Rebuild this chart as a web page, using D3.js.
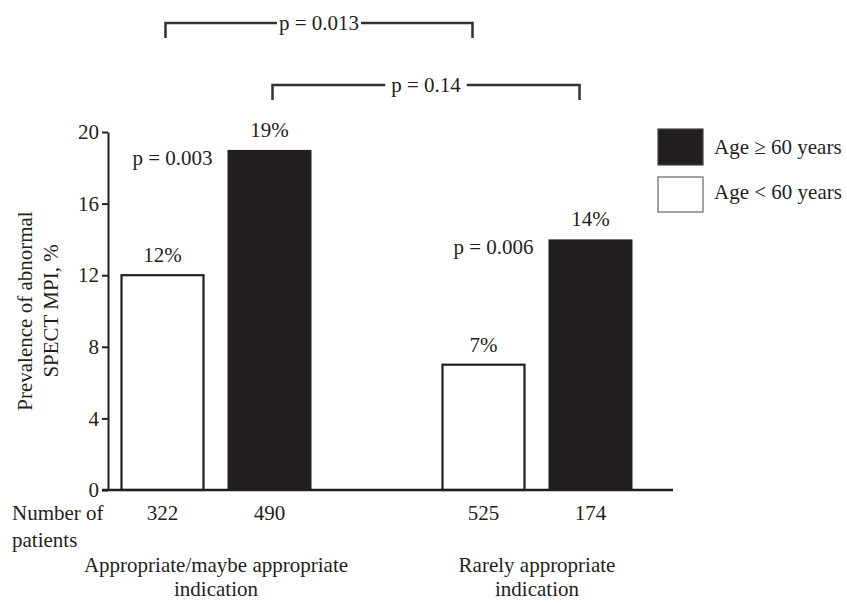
<!DOCTYPE html>
<html lang="en">
<head>
<meta charset="utf-8">
<title>Abnormal SPECT MPI by age and indication</title>
<script src="https://d3js.org/d3.v7.min.js"></script>
<style>
  body { margin: 0; background: #ffffff; }
  svg text { font-family: "Liberation Serif", "Times New Roman", serif; font-size: 21px; fill: #231f20; }
</style>
</head>
<body>
<script>
// data
var groups = ["Appropriate/maybe appropriate indication", "Rarely appropriate indication"];
var groupLines = [["Appropriate/maybe appropriate", "indication"], ["Rarely appropriate", "indication"]];
var ages = ["lt60", "ge60"];
var ageLabels = ["Age \u2265 60 years", "Age < 60 years"];
var prevLt60 = [12, 7];
var prevGe60 = [19, 14];
var patientsLt60 = [322, 525];
var patientsGe60 = [490, 174];
var pWithin = ["p = 0.003", "p = 0.006"];
var pBetween = [
  {from: [0, "lt60"], to: [1, "lt60"], label: "p = 0.013"},
  {from: [0, "ge60"], to: [1, "ge60"], label: "p = 0.14"}
];
var yTicks = [0, 4, 8, 12, 16, 20];

var width = 847, height = 603;
var dark = "#231f20";

var svg = d3.select("body").append("svg")
  .attr("width", width)
  .attr("height", height);

var y = d3.scaleLinear().domain([0, 20]).range([490, 132]);
var xGroup = d3.scalePoint().domain(groups).range([216, 537]);
var xAge = d3.scaleBand().domain(ages).range([-95.5, 95.5]).paddingInner(0.215);

var bars = [];
groups.forEach(function(g, i) {
  bars.push({group: g, age: "lt60", value: prevLt60[i], n: patientsLt60[i]});
  bars.push({group: g, age: "ge60", value: prevGe60[i], n: patientsGe60[i]});
});
function barX(d) { return xGroup(d.group) + xAge(d.age); }
function barMid(g, a) { return xGroup(g) + xAge(a) + xAge.bandwidth() / 2; }

// bars
svg.append("g").selectAll("rect")
  .data(bars)
  .enter().append("rect")
  .attr("x", function(d) { return barX(d) + (d.age == "lt60" ? 1 : 0); })
  .attr("y", function(d) { return y(d.value); })
  .attr("width", function(d) { return xAge.bandwidth() - (d.age == "lt60" ? 2 : 0); })
  .attr("height", function(d) { return y(0) - y(d.value); })
  .attr("fill", function(d) { return d.age == "ge60" ? dark : "#ffffff"; })
  .attr("stroke", function(d) { return d.age == "lt60" ? dark : "none"; })
  .attr("stroke-width", 2.2);

// value labels
svg.append("g").selectAll("text")
  .data(bars)
  .enter().append("text")
  .attr("x", function(d) { return barX(d) + xAge.bandwidth() / 2; })
  .attr("y", function(d) { return y(d.value) - 13; })
  .attr("text-anchor", "middle")
  .text(function(d) { return d.value + "%"; });

// within-group p values
svg.append("g").selectAll("text")
  .data(groups)
  .enter().append("text")
  .attr("x", function(g) { return xGroup(g) + xAge("ge60") - 15; })
  .attr("y", function(g, i) { return y(prevGe60[i]) + 15; })
  .attr("text-anchor", "end")
  .text(function(g, i) { return pWithin[i]; });

// y axis
var yAxis = d3.axisLeft(y).tickValues(yTicks).tickSize(6).tickSizeOuter(0).tickPadding(3);
var ax = svg.append("g").attr("transform", "translate(108,0)").call(yAxis);
ax.select(".domain").attr("stroke", dark).attr("stroke-width", 2);
ax.selectAll(".tick line").attr("stroke", dark).attr("stroke-width", 2);
ax.selectAll(".tick text").attr("font-family", null).attr("font-size", null).attr("fill", dark);

// baseline
svg.append("line")
  .attr("x1", 102).attr("x2", 673)
  .attr("y1", y(0)).attr("y2", y(0))
  .attr("stroke", dark).attr("stroke-width", 2.5);

// y title
var yTitle = svg.append("text")
  .attr("transform", "translate(32,311) rotate(-90)")
  .attr("text-anchor", "middle");
yTitle.append("tspan").attr("x", 0).attr("dy", 0).text("Prevalence of abnormal");
yTitle.append("tspan").attr("x", 0).attr("dy", 26).text("SPECT MPI, %");

// patient counts
svg.append("text").attr("x", 12).attr("y", 520).text("Number of");
svg.append("text").attr("x", 12).attr("y", 547).text("patients");
svg.append("g").selectAll("text")
  .data(bars)
  .enter().append("text")
  .attr("x", function(d) { return barX(d) + xAge.bandwidth() / 2; })
  .attr("y", 520)
  .attr("text-anchor", "middle")
  .text(function(d) { return d.n; });

// group labels
groups.forEach(function(g, i) {
  var t = svg.append("text").attr("text-anchor", "middle");
  groupLines[i].forEach(function(line, j) {
    t.append("tspan").attr("x", xGroup(g)).attr("y", 572 + j * 24).text(line);
  });
});

// between-group brackets
var bracketY = [23, 85];
pBetween.forEach(function(b, i) {
  var x1 = barMid(groups[b.from[0]], b.from[1]) + 3;
  var x2 = barMid(groups[b.to[0]], b.to[1]) - 11;
  var yy = bracketY[i];
  var t = svg.append("text")
    .attr("x", (x1 + x2) / 2)
    .attr("y", yy + 7)
    .attr("text-anchor", "middle")
    .text(b.label);
  var half = t.node().getComputedTextLength() / 2 + (i == 0 ? 2 : 6);
  var cx = (x1 + x2) / 2;
  var line = d3.line();
  svg.append("path")
    .attr("d", line([[x1, yy + 15], [x1, yy], [cx - half, yy]]))
    .attr("fill", "none").attr("stroke", "#333").attr("stroke-width", 2.5);
  svg.append("path")
    .attr("d", line([[cx + half, yy], [x2, yy], [x2, yy + 15]]))
    .attr("fill", "none").attr("stroke", "#333").attr("stroke-width", 2.5);
});

// legend
var legend = svg.append("g").attr("transform", "translate(658,129)");
var legendFill = [dark, "#ffffff"];
legend.selectAll("rect")
  .data(ageLabels)
  .enter().append("rect")
  .attr("x", 0)
  .attr("y", function(d, i) { return i * 48; })
  .attr("width", 45)
  .attr("height", function(d, i) { return i == 0 ? 36 : 35; })
  .attr("fill", function(d, i) { return legendFill[i]; })
  .attr("stroke", function(d, i) { return i == 0 ? "#444" : "#666"; })
  .attr("stroke-width", 1.2);
legend.selectAll("text")
  .data(ageLabels)
  .enter().append("text")
  .attr("x", 56)
  .attr("y", function(d, i) { return 25 + i * 45; })
  .text(function(d) { return d; });
</script>
</body>
</html>
